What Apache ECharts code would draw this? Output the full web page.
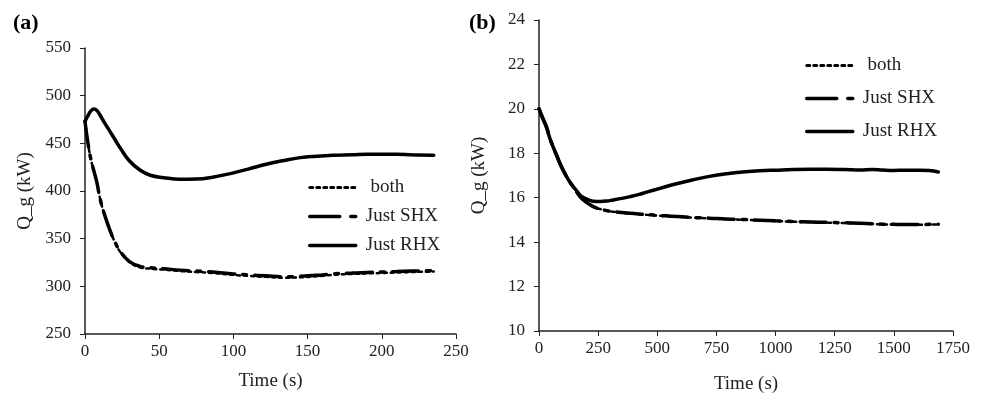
<!DOCTYPE html>
<html>
<head>
<meta charset="utf-8">
<script src="https://cdn.jsdelivr.net/npm/echarts@6/dist/echarts.min.js"></script>
<style>
  html, body { margin: 0; padding: 0; background: #fff; }
  #chart { width: 988px; height: 399px; }
</style>
</head>
<body>
<div id="chart"></div>
<script>
// panel (a): time (s) and Q_g (kW)
var timeA = [0, 2, 4, 6, 8, 10, 13, 17, 20, 24, 30, 37, 44, 53, 64, 75, 86, 100, 110, 122, 134, 145, 156, 167, 180, 190, 200, 210, 220, 235];
var rhxA = [473, 479, 484, 486, 484.5, 480, 472, 462, 454.5, 444.5, 431.5, 422, 416.5, 414, 412.3, 412.5, 414.5, 419, 423, 428, 432, 435, 436.5, 437.5, 438, 438.5, 438.5, 438.5, 438, 437.5];
var shxA = [473, 450, 433, 421, 409, 393, 376, 358, 347, 336, 326, 321, 319.5, 318.5, 317, 316, 315, 313, 312, 311, 310, 310.5, 311.5, 313, 314, 314.5, 315, 315.5, 316, 316.5];
var bothA = [473, 450, 433, 421, 409, 393, 376, 358, 347, 335.5, 325.5, 320, 318.5, 317.5, 316, 315, 314, 312, 311, 310, 309, 309.5, 310.5, 312, 313, 313.5, 314, 314.5, 315, 315.5];

// panel (b)
var timeB = [0, 15, 32, 45, 60, 75, 89, 103, 117, 131, 145, 160, 173, 190, 216, 244, 258, 286, 314, 350, 385, 420, 455, 511, 560, 652, 720, 793, 860, 934, 1000, 1075, 1150, 1216, 1290, 1357, 1410, 1450, 1497, 1550, 1610, 1650, 1688];
var rhxB = [20, 19.6, 19.17, 18.7, 18.28, 17.9, 17.53, 17.22, 16.94, 16.7, 16.5, 16.3, 16.12, 16.0, 15.87, 15.83, 15.83, 15.85, 15.9, 15.97, 16.05, 16.14, 16.25, 16.42, 16.57, 16.81, 16.96, 17.08, 17.16, 17.21, 17.24, 17.27, 17.28, 17.28, 17.27, 17.25, 17.27, 17.25, 17.23, 17.24, 17.24, 17.22, 17.16];
var shxB = [20, 19.6, 19.17, 18.7, 18.28, 17.9, 17.53, 17.22, 16.94, 16.7, 16.48, 16.25, 16.05, 15.88, 15.68, 15.53, 15.5, 15.42, 15.38, 15.33, 15.3, 15.27, 15.24, 15.2, 15.17, 15.11, 15.08, 15.04, 15.02, 14.99, 14.96, 14.93, 14.91, 14.89, 14.87, 14.85, 14.83, 14.81, 14.8, 14.79, 14.79, 14.8, 14.81];
var bothB = [20, 19.6, 19.17, 18.7, 18.28, 17.9, 17.53, 17.22, 16.94, 16.7, 16.47, 16.24, 16.04, 15.87, 15.67, 15.52, 15.49, 15.41, 15.37, 15.32, 15.29, 15.26, 15.23, 15.19, 15.16, 15.1, 15.07, 15.03, 15.01, 14.98, 14.95, 14.92, 14.9, 14.88, 14.86, 14.84, 14.82, 14.8, 14.79, 14.78, 14.78, 14.79, 14.8];

var ticksA = { min: 0, max: 250, interval: 50 };
var ticksAy = { min: 250, max: 550, interval: 50 };
var ticksB = { min: 0, max: 1750, interval: 250 };
var ticksBy = { min: 10, max: 24, interval: 2 };

var seriesNames = ["both", "Just SHX", "Just RHX"];

function pairs(xs, ys) {
  return xs.map(function (x, i) { return [x, ys[i]]; });
}

var FONT = "Liberation Serif";
var INK = "#222";
var DASHDOT = [26, 8, 4, 8];
var DOTS = [3, 4];

function plain(v) { return String(v); }

function xAxis(gridIndex, t, gap) {
  return {
    type: "value", gridIndex: gridIndex,
    min: t.min, max: t.max, interval: t.interval,
    name: "Time (s)", nameLocation: "middle", nameGap: gap,
    nameTextStyle: { fontFamily: FONT, fontSize: 19, color: INK },
    axisLine: { onZero: false, lineStyle: { color: INK, width: 1.5 } },
    axisTick: { length: 5, lineStyle: { color: INK } },
    axisLabel: { fontFamily: FONT, fontSize: 17, color: INK, margin: 9, formatter: plain },
    splitLine: { show: false }
  };
}

function yAxis(gridIndex, t) {
  return {
    type: "value", gridIndex: gridIndex,
    min: t.min, max: t.max, interval: t.interval,
    name: "Q_g (kW)", nameLocation: "middle", nameGap: 50,
    nameTextStyle: { fontFamily: FONT, fontSize: 19, color: INK },
    axisLine: { show: true, lineStyle: { color: INK, width: 1.5 } },
    axisTick: { show: true, length: 5, lineStyle: { color: INK } },
    axisLabel: { fontFamily: FONT, fontSize: 17, color: INK, margin: 14, formatter: plain },
    splitLine: { show: false }
  };
}

function line(name, idx, data, type, width) {
  return {
    name: name, type: "line", xAxisIndex: idx, yAxisIndex: idx,
    data: data, showSymbol: false, symbol: "none", smooth: 0.45,
    silent: true, color: "#000",
    itemStyle: { color: "#000" },
    lineStyle: { color: "#000", width: width, type: type, cap: "round" }
  };
}

function legend(left, top, gap) {
  return {
    orient: "vertical", left: left, top: top, itemGap: gap,
    itemWidth: 46, itemHeight: 14,
    lineStyle: { width: 3 },
    itemStyle: { opacity: 0 },
    formatter: function (n) { return n === "both" ? " both" : n; },
    textStyle: { fontFamily: FONT, fontSize: 19, color: INK, padding: [0, 0, 0, 5] },
    data: [
      { name: "both", lineStyle: { type: [3, 4] } },
      { name: "Just SHX", lineStyle: { type: [30, 11, 5, 20], width: 3.5 } },
      { name: "Just RHX", lineStyle: { width: 3.5 } }
    ]
  };
}

var chart = echarts.init(document.getElementById("chart"));
var option = {
  backgroundColor: "#fff",
  animation: false,
  graphic: [
    { type: "text", left: 13, top: 12, style: { text: "(a)", font: "bold 22px 'Liberation Serif'", fill: "#000" } },
    { type: "text", left: 469, top: 12, style: { text: "(b)", font: "bold 22px 'Liberation Serif'", fill: "#000" } }
  ],
  grid: [
    { left: 85, right: 532, top: 48, bottom: 65 },
    { left: 539, right: 35, top: 20, bottom: 65 }
  ],
  xAxis: [xAxis(0, ticksA, 38), xAxis(1, ticksB, 44)],
  yAxis: [yAxis(0, ticksAy), yAxis(1, ticksBy)],
  legend: [legend(303, 173, 10), legend(800, 51, 14)],
  series: [
    line(seriesNames[0], 0, pairs(timeA, bothA), DOTS, 2.5),
    line(seriesNames[1], 0, pairs(timeA, shxA), DASHDOT, 3.5),
    line(seriesNames[2], 0, pairs(timeA, rhxA), "solid", 3.5),
    line(seriesNames[0], 1, pairs(timeB, bothB), DOTS, 2.5),
    line(seriesNames[1], 1, pairs(timeB, shxB), DASHDOT, 3.5),
    line(seriesNames[2], 1, pairs(timeB, rhxB), "solid", 3.5)
  ]
};
chart.setOption(option);
</script>
</body>
</html>
